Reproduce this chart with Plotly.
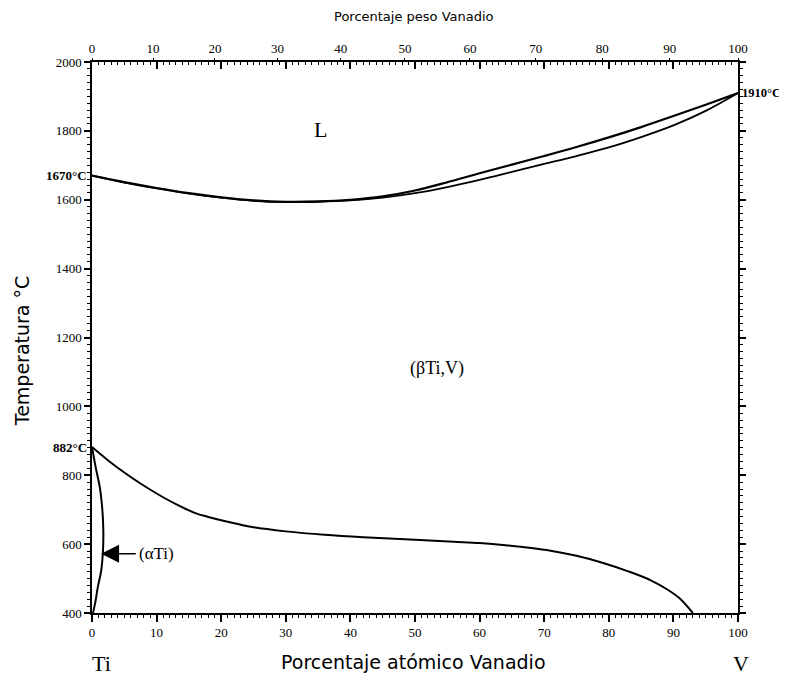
import plotly.graph_objects as go

# ---------------- data ----------------
liq_x = [0, 5, 10, 15, 20, 25, 30, 35, 40, 45, 50, 55, 60, 65, 70, 75, 80, 85, 90, 95, 100]
liq_T = [1670, 1651, 1634, 1619, 1607, 1598, 1594, 1595, 1600, 1610, 1627, 1651, 1677, 1702, 1727, 1753, 1781, 1811, 1843, 1876, 1910]
sol_x = [0, 5, 10, 15, 20, 25, 30, 35, 40, 45, 50, 55, 60, 65, 70, 75, 80, 85, 90, 95, 100]
sol_T = [1670, 1650, 1633, 1618, 1606, 1597, 1593, 1594, 1598, 1606, 1619, 1637, 1658, 1681, 1704, 1727, 1752, 1782, 1816, 1858, 1910]

beta_x = [0, 2.5, 5, 7.5, 10, 13, 16, 18, 21, 25, 30, 36, 42, 50, 56, 60, 64, 68, 71, 75, 79, 83, 86.5, 89, 91, 93]
beta_T = [882, 843, 808, 776, 747, 716, 690, 679, 665, 649, 637, 627, 620, 613, 607, 603, 597, 589, 581, 566, 546, 521, 495, 469, 442, 400]

alpha_x = [0, 0.6, 1.2, 1.6, 1.75, 1.7, 1.4, 0.9, 0.5, 0.15]
alpha_T = [882, 820, 766, 700, 640, 580, 520, 475, 430, 400]

at_ticks = [0, 10, 20, 30, 40, 50, 60, 70, 80, 90, 100]
wt_labels = [0, 10, 20, 30, 40, 50, 60, 70, 80, 90, 100]
temp_ticks = [400, 600, 800, 1000, 1200, 1400, 1600, 1800, 2000]
M_V, M_Ti = 50.94, 47.867

# weight % -> atomic % positions for top axis
def wt_to_at(w):
    nv = w / M_V
    nt = (100 - w) / M_Ti
    return 100 * nv / (nv + nt)

wt_pos = [wt_to_at(w) for w in wt_labels]

SERIF = "Liberation Serif"
SANS = "DejaVu Sans"

fig = go.Figure()
fig.add_trace(go.Scatter(x=liq_x, y=liq_T, mode="lines", line=dict(color="black", width=2.2, shape="spline"),
                         showlegend=False, hoverinfo="skip"))
fig.add_trace(go.Scatter(x=sol_x, y=sol_T, mode="lines", line=dict(color="black", width=1.8, shape="spline"),
                         showlegend=False, hoverinfo="skip"))
fig.add_trace(go.Scatter(x=beta_x, y=beta_T, mode="lines", line=dict(color="black", width=2, shape="spline"),
                         showlegend=False, hoverinfo="skip"))
fig.add_trace(go.Scatter(x=alpha_x, y=alpha_T, mode="lines", line=dict(color="black", width=2, shape="spline"),
                         showlegend=False, hoverinfo="skip"))
# dummy traces to activate top axes
fig.add_trace(go.Scatter(x=[None], y=[None], xaxis="x2", showlegend=False, hoverinfo="skip"))
fig.add_trace(go.Scatter(x=[None], y=[None], xaxis="x3", showlegend=False, hoverinfo="skip"))

fig.update_layout(
    width=787, height=675,
    margin=dict(l=84, r=57, t=54, b=70),
    paper_bgcolor="white", plot_bgcolor="white",
    xaxis=dict(range=[0, 100], tickvals=at_ticks, ticks="outside", ticklen=7, tickwidth=1.5,
               tickcolor="black", showline=True, linecolor="black", linewidth=1.5, showgrid=False,
               zeroline=False, tickfont=dict(family=SERIF, size=13, color="black"),
               minor=dict(dtick=1, tick0=0, ticks="outside", ticklen=3, tickwidth=1, tickcolor="black", showgrid=False)),
    xaxis3=dict(range=[0, 100], overlaying="x", side="top", anchor="y", tickvals=at_ticks, ticks="inside",
                ticklen=7, tickwidth=1.5, tickcolor="black", showticklabels=False, showline=True,
                linecolor="black", linewidth=1.5, showgrid=False, zeroline=False,
                minor=dict(dtick=1, tick0=0, ticks="inside", ticklen=3, tickwidth=1, tickcolor="black", showgrid=False)),
    xaxis2=dict(range=[0, 100], overlaying="x", side="top", anchor="y", tickvals=wt_pos,
                ticktext=[str(w) for w in wt_labels], ticks="outside", ticklen=3, tickwidth=1,
                tickcolor="black", showline=False, showgrid=False, zeroline=False,
                tickfont=dict(family=SERIF, size=13, color="black")),
    yaxis=dict(range=[400, 2000], tickvals=temp_ticks, ticks="outside", ticklen=6, tickwidth=1.5,
               tickcolor="black", showline=True, linecolor="black", linewidth=1.5, mirror="ticks",
               showgrid=False, zeroline=False, tickfont=dict(family=SERIF, size=13, color="black"),
               minor=dict(dtick=20, tick0=0, ticks="outside", ticklen=3, tickwidth=1, tickcolor="black", showgrid=False)),
)

ann = []
def txt(x, y, s, size, family=SERIF, xref="x", yref="y", xanchor="center", yanchor="middle", **kw):
    ann.append(dict(x=x, y=y, xref=xref, yref=yref, text=s, showarrow=False,
                    xanchor=xanchor, yanchor=yanchor,
                    font=dict(family=family, size=size, color="black"), **kw))

txt(35.3, 1803, "L", 22)
txt(53.4, 1111, "(βTi,V)", 18)
txt(7.0, 572, "(αTi)", 17, xanchor="left")
txt(0, 1670, "<b>1670°C</b>", 13, xanchor="right", xshift=-3)
txt(0, 882, "<b>882°C</b>", 13, xanchor="right", xshift=-3)
txt(100, 1910, "<b>1910°C</b>", 12.5, xanchor="left", xshift=2)
txt(0.014, -0.091, "Ti", 22, xref="paper", yref="paper")
txt(1.005, -0.091, "V", 22, xref="paper", yref="paper")
txt(0.498, -0.089, "Porcentaje atómico Vanadio", 19, family=SANS, xref="paper", yref="paper")
txt(0.498, 1.0817, "Porcentaje peso Vanadio", 13, family=SANS, xref="paper", yref="paper")
txt(-0.108, 0.4755, "Temperatura °C", 19, family=SANS, xref="paper", yref="paper", textangle=-90)

ann.append(dict(x=1.4, y=572, xref="x", yref="y", ax=7.0, ay=572, axref="x", ayref="y", text="",
                showarrow=True, arrowhead=2, arrowsize=2.4, arrowwidth=1.5, arrowcolor="black"))

fig.update_layout(annotations=ann)
fig.write_html("out.html")
